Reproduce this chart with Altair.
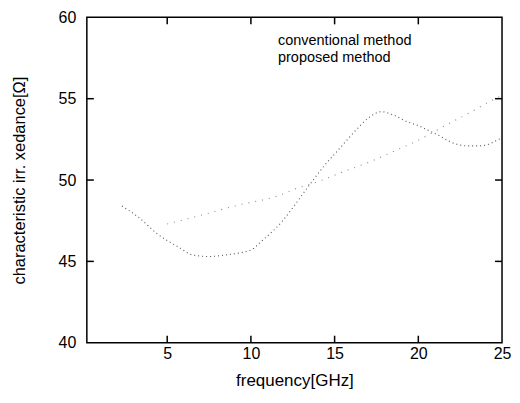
import altair as alt
import pandas as pd

# conventional method (steeper curve)
conv_x = [2.3, 3.3, 4.4, 5.8, 6.5, 7.5, 8.5, 10.0, 10.7, 11.9, 12.5, 13.5, 14.4, 15.0, 15.6,
          16.3, 17.0, 17.8, 18.5, 19.3, 20.1, 20.5, 21.1, 22.3, 22.9, 23.6, 24.2, 24.8, 25.0]
conv_y = [48.4, 47.7, 46.7, 45.8, 45.4, 45.3, 45.4, 45.7, 46.3, 47.5, 48.3, 49.7, 50.9, 51.6, 52.3,
          53.1, 53.8, 54.2, 54.0, 53.6, 53.3, 53.1, 52.8, 52.2, 52.1, 52.1, 52.2, 52.5, 52.6]
# proposed method (gentler curve)
prop_x = [5.0, 6.9, 9.0, 11.8, 12.5, 14.0, 15.5, 17.3, 18.6, 19.9, 21.7, 23.0, 24.4, 25.0]
prop_y = [47.3, 47.8, 48.4, 49.1, 49.4, 49.9, 50.5, 51.2, 51.8, 52.4, 53.4, 54.1, 54.9, 55.2]

series = ["conventional method", "proposed method"]
x_ticks = [5, 10, 15, 20]
y_ticks = [45, 50, 55]

df = pd.concat([
    pd.DataFrame({"f": conv_x, "z": conv_y, "method": series[0]}),
    pd.DataFrame({"f": prop_x, "z": prop_y, "method": series[1]}),
])

W, H = 416, 326
xs = alt.Scale(domain=[0.2, 25], nice=False, zero=False)
ys = alt.Scale(domain=[40, 60], nice=False, zero=False)

lines = alt.Chart(df).mark_line(strokeWidth=1.1, interpolate="monotone").encode(
    x=alt.X("f:Q", scale=xs,
            axis=alt.Axis(title="frequency[GHz]", values=[5, 10, 15, 20, 25], grid=False,
                          ticks=False, tickSize=0, domain=False, labelFlush=False,
                          labelPadding=3, titlePadding=11, titleFontSize=17)),
    y=alt.Y("z:Q", scale=ys,
            axis=alt.Axis(title="characteristic irr. xedance[Ω]", values=[40, 45, 50, 55, 60],
                          grid=False, ticks=False, tickSize=0, domain=False, labelFlush=False,
                          labelPadding=11, titlePadding=31, titleFontSize=16.5)),
    color=alt.Color("method:N", scale=alt.Scale(domain=series, range=["#555555", "#8a8a8a"]),
                    legend=alt.Legend(title=None, orient="none", legendX=177, legendY=16,
                                      symbolOpacity=0, symbolSize=1, labelOffset=0,
                                      labelFontSize=14.5, rowPadding=2.5, padding=0,
                                      labelColor="black", labelFont="Liberation Sans")),
    strokeDash=alt.StrokeDash("method:N", scale=alt.Scale(domain=series, range=[[1, 3], [1, 6]]),
                              legend=None),
)

xt = pd.DataFrame({"t": x_ticks})
yt = pd.DataFrame({"t": y_ticks})
tick_style = dict(color="black", strokeWidth=1.5)
bottom = alt.Chart(xt).mark_rule(**tick_style).encode(x=alt.X("t:Q", scale=xs), y=alt.value(H), y2=alt.value(H - 7))
top = alt.Chart(xt).mark_rule(**tick_style).encode(x=alt.X("t:Q", scale=xs), y=alt.value(0), y2=alt.value(7))
left = alt.Chart(yt).mark_rule(**tick_style).encode(y=alt.Y("t:Q", scale=ys), x=alt.value(0), x2=alt.value(7))
right = alt.Chart(yt).mark_rule(**tick_style).encode(y=alt.Y("t:Q", scale=ys), x=alt.value(W), x2=alt.value(W - 7))

chart = alt.layer(lines, bottom, top, left, right).properties(
    width=W, height=H,
    background="white",
    autosize=alt.AutoSizeParams(type="none"),
    padding={"left": 79, "top": 9, "right": 10, "bottom": 50},
).configure_view(stroke="black", strokeWidth=1.5).configure_axis(
    labelFont="Liberation Sans", titleFont="Liberation Sans", labelFontSize=16,
    labelColor="black", titleColor="black", titleFontWeight="normal"
)

chart.save("out.html", embed_options={"renderer": "svg", "actions": False})
